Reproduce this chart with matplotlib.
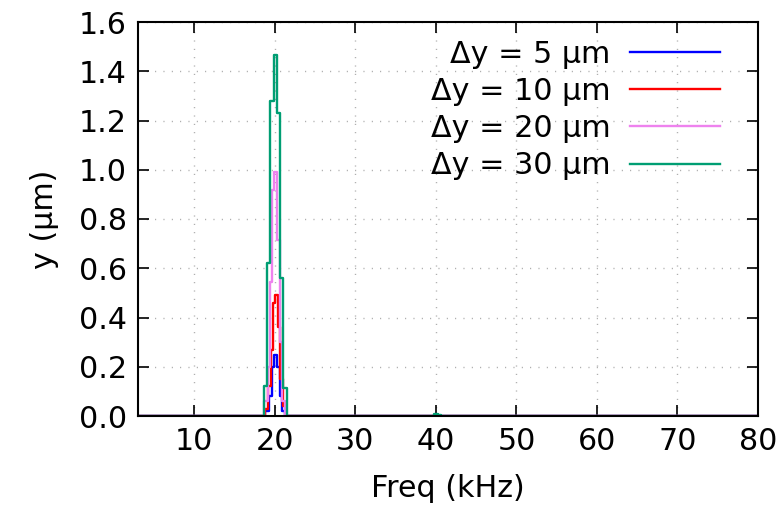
import matplotlib
matplotlib.use("Agg")
import matplotlib.pyplot as plt

# ---- data (frequency in kHz, amplitude in µm) ----
freq_5 = [3.0, 18.6, 19.05, 19.45, 19.77, 20.1, 20.45, 20.75, 21.05, 21.4,
          39.6, 40.0, 40.4, 80.0]
amp_5 = [0.0, 0.0, 0.02, 0.08, 0.20, 0.248, 0.20, 0.08, 0.02, 0.0,
         0.0, 0.001, 0.0, 0.0]

freq_10 = [3.0, 18.6, 19.0, 19.4, 19.7, 19.95, 20.15, 20.5, 20.85, 21.15, 21.5,
           39.6, 40.0, 40.4, 80.0]
amp_10 = [0.0, 0.0, 0.03, 0.12, 0.27, 0.46, 0.49, 0.36, 0.15, 0.04, 0.0,
          0.0, 0.003, 0.0, 0.0]

freq_20 = [3.0, 18.5, 18.9, 19.3, 19.58, 19.8, 20.1, 20.45, 20.75, 21.1, 21.5,
           39.6, 40.0, 40.4, 80.0]
amp_20 = [0.0, 0.0, 0.06, 0.20, 0.545, 0.918, 0.99, 0.715, 0.30, 0.06, 0.0,
          0.0, 0.005, 0.0, 0.0]

freq_30 = [3.0, 18.45, 18.85, 19.25, 19.65, 20.05, 20.45, 20.85, 21.25, 21.65,
           39.6, 40.0, 40.4, 40.8, 80.0]
amp_30 = [0.0, 0.0, 0.12, 0.62, 1.28, 1.466, 1.23, 0.56, 0.114, 0.0,
          0.0, 0.008, 0.006, 0.0, 0.0]

labels = ["Δy = 5 µm", "Δy = 10 µm", "Δy = 20 µm", "Δy = 30 µm"]
colors = ["#0000ff", "#ff0000", "#ee82ee", "#009e73"]
x_ticks = [10, 20, 30, 40, 50, 60, 70, 80]
y_ticks = [0.0, 0.2, 0.4, 0.6, 0.8, 1.0, 1.2, 1.4, 1.6]

FS = 21.7

fig = plt.figure(figsize=(7.83, 5.23), dpi=100)
ax = fig.add_axes([138 / 783, 1 - 416 / 523, (758 - 138) / 783, (416 - 22) / 523])

series = [(freq_5, amp_5), (freq_10, amp_10), (freq_20, amp_20), (freq_30, amp_30)]
for (f, a), lab, c in zip(series, labels, colors):
    ax.step(f, a, where="mid", color=c, lw=1.7, label=lab)

ax.set_xlim(3, 80)
ax.set_ylim(0, 1.6)
ax.set_xticks(x_ticks)
ax.set_yticks(y_ticks)
ax.set_yticklabels([f"{v:.1f}" for v in y_ticks])
ax.tick_params(direction="in", length=8, width=1.2, labelsize=FS,
               top=True, right=True, pad=8)
ax.grid(True, color="#a0a0a0", linestyle=(0, (0.7, 5.3)), lw=1.0)
for s in ax.spines.values():
    s.set_linewidth(1.5)

ax.set_xlabel("Freq (kHz)", fontsize=FS, labelpad=13)
ax.set_ylabel("y (µm)", fontsize=FS, labelpad=14)

leg = ax.legend(loc="upper right", bbox_to_anchor=(0.939, 0.955), frameon=False,
                fontsize=FS, markerfirst=False, handlelength=3.0,
                handletextpad=0.65, labelspacing=0.27, borderpad=0, borderaxespad=0)

fig.savefig("out.png", dpi=100)
